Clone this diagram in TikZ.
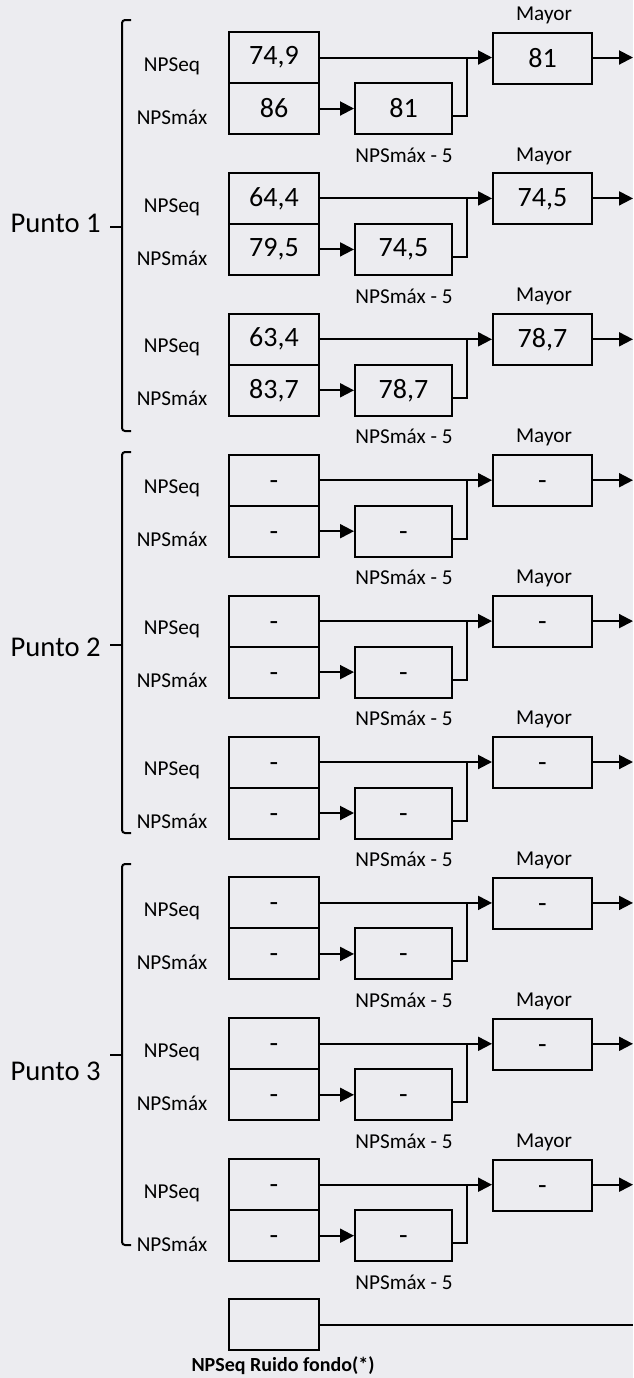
\documentclass[tikz,border=0pt]{standalone}
\usepackage{fontspec}
\setmainfont{Carlito}
\usetikzlibrary{arrows.meta}
\definecolor{scan}{RGB}{236,236,240}
\tikzset{
  caja/.style={draw,line width=1pt,minimum width=45pt,minimum height=25.5pt,inner sep=0pt,font=\fontsize{14}{16}\selectfont},
  etiq/.style={inner sep=0pt,font=\fontsize{10.6}{12}\selectfont},
  flecha/.style={line width=1pt,-{Triangle[length=7pt,width=7pt]}},
  linea/.style={line width=1pt}
}
\begin{document}
\begin{tikzpicture}[x=0.5pt,y=-0.5pt]
			\fill[scan] (0,0) rectangle (633,1378);
			\useasboundingbox (0,0) rectangle (633,1378);
			% bloques NPSeq / NPSmax
			\foreach \i/\a/\b/\c/\d in {0/{74,9}/86/81/81,1/{64,4}/{79,5}/{74,5}/{74,5},2/{63,4}/{83,7}/{78,7}/{78,7},
				3/-/-/-/-,4/-/-/-/-,5/-/-/-/-,6/-/-/-/-,7/-/-/-/-,8/-/-/-/-}{
				\pgfmathsetmacro{\yo}{32+\i*140.9}
				\node[caja] (eq\i) at (274,\yo+25.5) {\vphantom{0}\a};
				\node[caja] (mx\i) at (274,\yo+76.5) {\vphantom{0}\b};
				\node[caja,minimum width=48.5pt] (m5\i) at (403.5,\yo+76.5) {\vphantom{0}\c};
				\node[caja,minimum width=49.5pt] (may\i) at (542.5,\yo+26) {\vphantom{0}\d};
				\node[etiq] at (172,\yo+34) {NPSeq};
				\node[etiq] at (172,\yo+85) {NPSmáx};
				\node[etiq] at (404,\yo+123) {NPSmáx - 5};
				\node[etiq] at (544,\yo-17) {Mayor};
				\coordinate (j\i) at (467,\yo+25.5);
				\coordinate (out\i) at (633,\yo+25.5);
				\draw[flecha] (eq\i.east) -- (eq\i.east -| may\i.west);
				\draw[flecha] (mx\i.east) -- (m5\i.west);
				\draw[linea] ([yshift=-3.75pt]m5\i.east) -| (j\i);
				\draw[flecha] (may\i.east |- out\i) -- (out\i);
			}
			% llaves de los puntos
			\foreach \n/\top/\bot/\mid/\ty in {1/20/431/227/223,2/452/833/645/647,3/864/1245/1055/1071}{
				\draw[linea,rounded corners=1.5pt] (131,\top) -- (122,\top) -- (122,\bot) -- (131,\bot);
				\draw[linea] (122,\mid) -- (110,\mid);
				\node[inner sep=0pt,anchor=east,font=\fontsize{14.3}{16}\selectfont] (p\n) at (101,\ty) {Punto \n};
			}
			% ruido de fondo
			\node[caja] (rf) at (274,1324.5) {};
			\node[etiq,font=\bfseries\fontsize{10}{12}\selectfont] at (283,1366) {NPSeq Ruido fondo(*)};
			\coordinate (rfout) at (633,1324.5);
			\draw[linea] (rf.east) -- (rfout);
		\end{tikzpicture}
\end{document}
